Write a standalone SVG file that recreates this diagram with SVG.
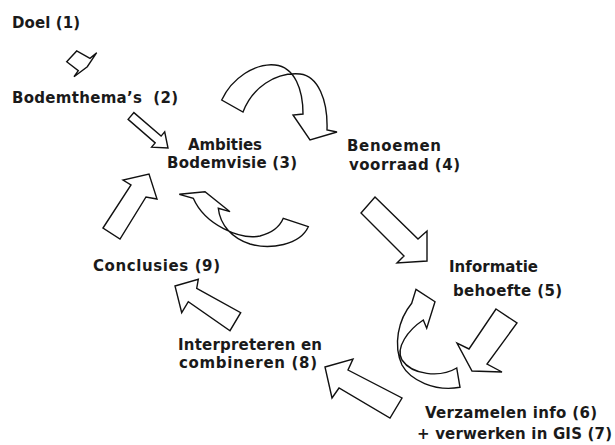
<svg xmlns="http://www.w3.org/2000/svg" width="615" height="445" viewBox="0 0 615 445">
<style>
.t{font-family:"DejaVu Sans","Liberation Sans",sans-serif;font-weight:bold;font-size:15px;fill:#1a1a1a}
.a{fill:#fff;stroke:#111;stroke-width:1.4;stroke-linejoin:miter}
</style>
<rect width="615" height="445" fill="#fff"/>
<g id="connectors">
<polygon class="a" points="66.7,61.7 76.7,51 90,58.3 96.7,52.7 87.3,66.7 74,76.7 78.3,70.7"/>
<polygon class="a" points="133.9,112.6 161.1,136.1 164.7,131.9 168,148 151.6,147.1 155.2,142.9 128.1,119.4"/>
<path class="a" d="M221.7,100 C232,78 255,63 275,65 C295,67 303,90 303,114 L293,115 L310,140 L337,132 L327,130 C328,100 318,76 300,74 C275,72 252,88 243,112 Z"/>
<polygon class="a" points="375,197 418,239 427,231 427,261 397,263 404,256 361,213"/>
<polygon class="a" points="496,309 517,323 487,364 502,372 472,371 457,343 469,349"/>
<path class="a" d="M411.7,303.3 L416,289.3 L435,301.7 L426.7,328.3 L423.3,320 C408,330 395,348 402,360 C412,375 440,378 456.7,368 L460,387.3 C435,392 410,380 402,365 C393,345 398,320 411.7,303.3 Z"/>
<polygon class="a" points="325,367 353,359 348,370 402,398 390,418 339,388 332,398"/>
<polygon class="a" points="175,286 198.3,279.3 196.7,288.3 240.7,312.7 230,330.7 188.3,301.7 181.7,312.7"/>
<polygon class="a" points="103,228 131,185 123,180 149,174 157,199 146,197 120,239"/>
<path class="a" d="M179.3,194.3 L205,191.7 L230,211.7 L218.3,208.3 C220,225 232,238 250,244 C270,250 300,245 308.3,226.7 L283.3,218.3 C280,226 272,233 260,236 C240,240 205,225 193.3,198.3 Z"/>
</g>
<g id="n1"><text class="t" x="12" y="28" textLength="68">Doel (1)</text></g>
<g id="n2"><text class="t" x="12" y="103" textLength="166" xml:space="preserve">Bodemthema’s  (2)</text></g>
<g id="n3"><text class="t" x="188" y="150" textLength="74">Ambities</text><text class="t" x="167" y="168" textLength="130">Bodemvisie (3)</text></g>
<g id="n4"><text class="t" x="347" y="151" textLength="94">Benoemen</text><text class="t" x="349" y="170" textLength="111">voorraad (4)</text></g>
<g id="n5"><text class="t" x="449" y="272" textLength="89">Informatie</text><text class="t" x="453" y="296" textLength="109">behoefte (5)</text></g>
<g id="n67"><text class="t" x="425" y="418" textLength="172">Verzamelen info (6)</text><text class="t" x="417" y="439" textLength="195">+ verwerken in GIS (7)</text></g>
<g id="n8"><text class="t" x="178" y="350" textLength="144">Interpreteren en</text><text class="t" x="179" y="368" textLength="138">combineren (8)</text></g>
<g id="n9"><text class="t" x="93" y="271" textLength="127">Conclusies (9)</text></g>
</svg>
